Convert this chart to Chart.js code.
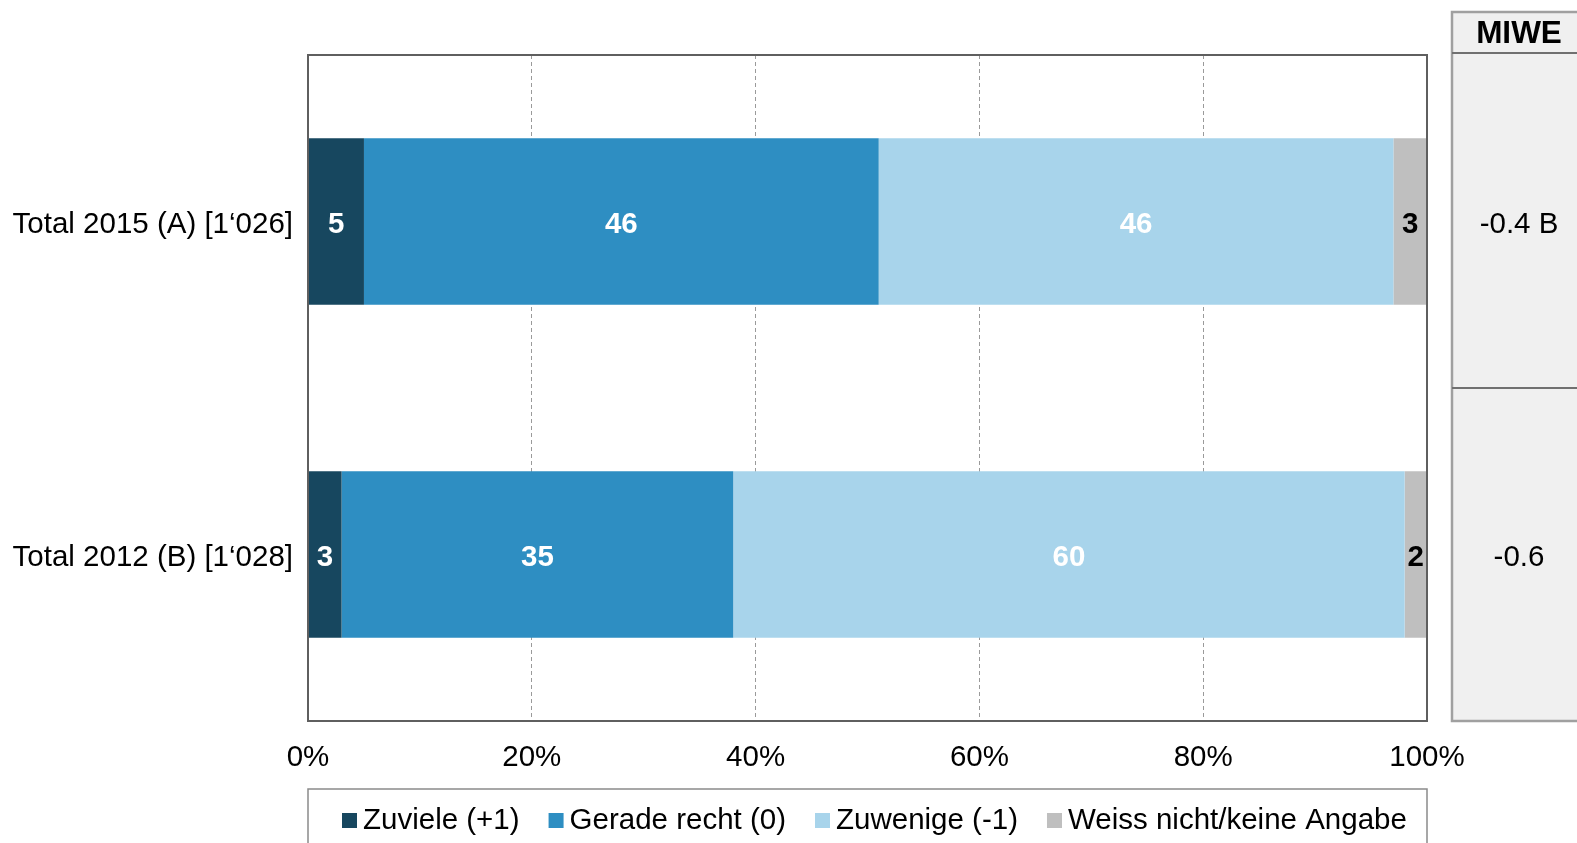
<!DOCTYPE html>
<html>
<head>
<meta charset="utf-8">
<script src="https://cdn.jsdelivr.net/npm/chart.js@4"></script>
<style>
  html, body { margin: 0; padding: 0; background: #fff; }
  #wrap { width: 1577px; height: 843px; position: relative; }
</style>
</head>
<body>
<div id="wrap"><canvas id="myChart" width="1577" height="843"></canvas></div>
<script>
// Categories and series (percent)
const categories = ['Total 2015 (A) [1‘026]', 'Total 2012 (B) [1‘028]'];
const zuviele = [5, 3];
const geradeRecht = [46, 35];
const zuwenige = [46, 60];
const weissNicht = [3, 2];
const miwe = ['-0.4 B', '-0.6'];
const xTicks = [0, 20, 40, 60, 80, 100];

const FONT = '"Liberation Sans", Arial, sans-serif';
const SIZE = 29.5;

// value labels inside the bar segments
const segmentLabels = {
    id: 'segmentLabels',
    afterDatasetsDraw(chart) {
        const c = chart.ctx;
        c.save();
        c.font = 'bold ' + SIZE + 'px ' + FONT;
        c.textAlign = 'center';
        c.textBaseline = 'middle';
        chart.data.datasets.forEach((ds, i) => {
            chart.getDatasetMeta(i).data.forEach((bar, j) => {
                const x = (bar.x + bar.base) / 2;
                c.fillStyle = ds.labelColor;
                c.fillText(String(ds.data[j]), x, bar.y + 3);
            });
        });
        c.restore();
    }
};

// frame, MIWE column and boxed legend
const extras = {
    id: 'extras',
    afterDraw(chart) {
        const c = chart.ctx;
        const a = chart.chartArea;
        c.save();
        c.strokeStyle = '#5f5f5f';
        c.lineWidth = 2;
        c.strokeRect(a.left, a.top, a.right - a.left, a.bottom - a.top);

        // MIWE table
        const tx = 1452, ty = 12, tw = 140, hh = 41;
        c.fillStyle = '#f0f0f0';
        c.fillRect(tx, ty, tw, a.bottom - ty);
        c.strokeStyle = '#a0a0a0';
        c.lineWidth = 2.5;
        c.beginPath();
        c.moveTo(tx + tw, ty); c.lineTo(tx, ty); c.lineTo(tx, a.bottom); c.lineTo(tx + tw, a.bottom);
        c.stroke();
        c.strokeStyle = '#707070';
        c.lineWidth = 2;
        c.beginPath();
        c.moveTo(tx, ty + hh); c.lineTo(tx + tw, ty + hh);
        c.moveTo(tx, (a.top + a.bottom) / 2); c.lineTo(tx + tw, (a.top + a.bottom) / 2);
        c.stroke();
        c.fillStyle = '#000';
        c.textAlign = 'center';
        c.textBaseline = 'middle';
        c.font = 'bold 31.5px ' + FONT;
        c.fillText('MIWE', 1519, ty + hh / 2 + 2);
        c.font = SIZE + 'px ' + FONT;
        const yScale = chart.scales.y;
        miwe.forEach((v, i) => {
            c.fillText(v, 1519, yScale.getPixelForValue(i) + 3);
        });

        // legend
        c.strokeStyle = '#8a8a8a';
        c.lineWidth = 1.5;
        c.strokeRect(a.left, 789, a.right - a.left, 80);
        let x = 342;
        const ly = 821;
        c.textAlign = 'left';
        c.font = SIZE + 'px ' + FONT;
        chart.data.datasets.forEach(ds => {
            c.fillStyle = ds.backgroundColor;
            c.fillRect(x, ly - 8, 15, 15);
            c.fillStyle = '#000';
            c.fillText(ds.label, x + 21, ly);
            x += 21 + c.measureText(ds.label).width + 29;
        });
        c.restore();
    }
};

const ctx = document.getElementById('myChart');

const myChart = new Chart(ctx, {
    type: 'bar',
    data: {
        labels: categories,
        datasets: [
            { label: 'Zuviele (+1)', data: zuviele, backgroundColor: '#17475f', labelColor: '#fff' },
            { label: 'Gerade recht (0)', data: geradeRecht, backgroundColor: '#2e8ec2', labelColor: '#fff' },
            { label: 'Zuwenige (-1)', data: zuwenige, backgroundColor: '#a8d4eb', labelColor: '#fff' },
            { label: 'Weiss nicht/keine Angabe', data: weissNicht, backgroundColor: '#bfbfbf', labelColor: '#000' }
        ]
    },
    options: {
        indexAxis: 'y',
        responsive: false,
        animation: false,
        layout: { padding: { left: 0, top: 55, right: 150, bottom: 0 } },
        datasets: { bar: { barPercentage: 0.5, categoryPercentage: 1 } },
        plugins: { legend: { display: false }, tooltip: { enabled: false } },
        scales: {
            x: {
                stacked: true,
                min: 0,
                max: 100,
                afterFit: s => { s.height = 122; },
                afterBuildTicks: s => { s.ticks = xTicks.map(v => ({ value: v })); },
                ticks: {
                    padding: 19,
                    color: '#000',
                    font: { family: FONT, size: SIZE },
                    callback: v => v + '%'
                },
                grid: {
                    drawTicks: false,
                    color: ctx => (ctx.tick && (ctx.tick.value === 0 || ctx.tick.value === 100)) ? 'rgba(0,0,0,0)' : '#9a9a9a',
                    lineWidth: 1
                },
                border: { display: false, dash: [4, 3] }
            },
            y: {
                stacked: true,
                afterFit: s => { s.width = 308; },
                ticks: {
                    padding: 15,
                    labelOffset: 3,
                    color: '#000',
                    font: { family: FONT, size: SIZE }
                },
                grid: { display: false, drawTicks: false },
                border: { display: false }
            }
        }
    },
    plugins: [segmentLabels, extras]
});
</script>
</body>
</html>
